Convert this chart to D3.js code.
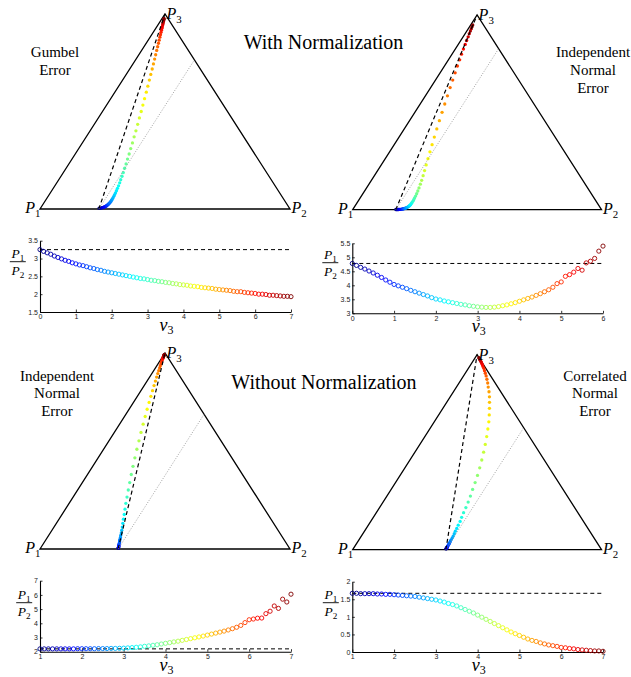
<!DOCTYPE html>
<html>
<head>
<title>simplex_ratio_panels</title>
<script src="https://cdn.jsdelivr.net/npm/d3@7"></script>
<style>
  body { margin: 0; background: #fff; }
</style>
</head>
<body>
<svg id="container" width="631" height="677"></svg>
<script>
// v3 grid used by all panels (step 0.1)
const v3From0 = [0,0.1,0.2,0.3,0.4,0.5,0.6,0.7,0.8,0.9,1,1.1,1.2,1.3,1.4,1.5,1.6,1.7,1.8,1.9,
  2,2.1,2.2,2.3,2.4,2.5,2.6,2.7,2.8,2.9,3,3.1,3.2,3.3,3.4,3.5,3.6,3.7,3.8,3.9,
  4,4.1,4.2,4.3,4.4,4.5,4.6,4.7,4.8,4.9,5,5.1,5.2,5.3,5.4,5.5,5.6,5.7,5.8,5.9,
  6,6.1,6.2,6.3,6.4,6.5,6.6,6.7,6.8,6.9,7]
const v3To6 = v3From0.slice(0, 61)
const v3From1 = v3From0.slice(10)

// Gumbel error, with normalization (v3 = 0..7)
const gumbelRatio = [3.25,3.20,3.16,3.12,3.07,3.03,2.99,2.95,2.92,2.88,
  2.85,2.82,2.80,2.77,2.74,2.72,2.69,2.67,2.64,2.62,
  2.60,2.58,2.56,2.54,2.52,2.50,2.48,2.46,2.44,2.43,
  2.41,2.39,2.38,2.36,2.35,2.33,2.32,2.30,2.29,2.27,
  2.26,2.25,2.23,2.22,2.21,2.19,2.18,2.17,2.16,2.14,
  2.13,2.12,2.11,2.10,2.08,2.07,2.07,2.05,2.04,2.03,
  2.02,2.00,2.00,1.99,1.97,1.97,1.96,1.95,1.94,1.94,1.93]
const gumbelP3 = [0.004,0.004,0.005,0.006,0.006,0.007,0.008,0.009,0.011,0.012,
  0.014,0.016,0.018,0.021,0.023,0.027,0.030,0.035,0.039,0.045,
  0.051,0.057,0.065,0.074,0.083,0.094,0.106,0.119,0.134,0.150,
  0.168,0.187,0.209,0.231,0.256,0.282,0.310,0.339,0.370,0.401,
  0.434,0.467,0.500,0.533,0.566,0.599,0.630,0.661,0.690,0.718,
  0.744,0.769,0.791,0.813,0.832,0.850,0.866,0.881,0.894,0.906,
  0.917,0.927,0.935,0.943,0.949,0.955,0.961,0.966,0.970,0.973,0.977]

// Independent normal error, with normalization (v3 = 0..6)
const indepNormRatio = [4.78,4.71,4.64,4.58,4.51,4.44,4.36,4.28,4.19,4.11,
  4.03,3.98,3.93,3.88,3.82,3.77,3.72,3.67,3.62,3.56,
  3.51,3.48,3.44,3.41,3.38,3.35,3.32,3.30,3.27,3.25,
  3.23,3.22,3.21,3.21,3.22,3.24,3.27,3.30,3.34,3.38,
  3.43,3.48,3.53,3.58,3.64,3.70,3.77,3.84,3.93,4.06,
  4.12,4.32,4.38,4.47,4.60,4.54,4.80,4.86,4.96,5.22,5.40]
const indepNormP3 = [0.001,0.001,0.001,0.001,0.001,0.001,0.002,0.002,0.002,0.003,
  0.003,0.004,0.005,0.006,0.007,0.008,0.009,0.011,0.013,0.016,
  0.019,0.022,0.026,0.031,0.036,0.043,0.051,0.060,0.070,0.082,
  0.096,0.112,0.131,0.151,0.175,0.201,0.230,0.262,0.297,0.334,
  0.373,0.415,0.457,0.500,0.543,0.585,0.627,0.666,0.703,0.738,
  0.770,0.799,0.825,0.849,0.869,0.888,0.904,0.918,0.930,0.940,0.949]

// Independent normal error, without normalization (v3 = 1..7)
const indepRawRatio = [2.20,2.20,2.20,2.20,2.20,2.20,2.20,2.20,2.20,2.21,
  2.21,2.21,2.21,2.21,2.22,2.22,2.22,2.23,2.23,2.24,
  2.25,2.27,2.29,2.31,2.34,2.38,2.41,2.45,2.49,2.54,
  2.59,2.64,2.69,2.74,2.80,2.86,2.92,2.98,3.04,3.10,
  3.17,3.24,3.31,3.38,3.45,3.53,3.62,3.72,3.85,4.05,
  4.25,4.30,4.36,4.37,4.68,4.85,5.22,5.05,5.70,5.50,6.05]
const indepRawP3 = [0.004,0.005,0.005,0.006,0.008,0.009,0.011,0.013,0.015,0.018,
  0.021,0.025,0.030,0.036,0.042,0.050,0.059,0.069,0.082,0.096,
  0.112,0.131,0.152,0.176,0.203,0.233,0.265,0.301,0.339,0.380,
  0.422,0.465,0.509,0.552,0.595,0.637,0.676,0.713,0.748,0.779,
  0.808,0.834,0.857,0.877,0.895,0.910,0.924,0.935,0.945,0.953,
  0.961,0.967,0.972,0.976,0.980,0.983,0.986,0.988,0.990,0.992,0.993]

// Correlated normal error, without normalization (v3 = 1..7)
const corrRawRatio = [1.67,1.67,1.66,1.66,1.66,1.66,1.65,1.65,1.64,1.64,
  1.63,1.62,1.61,1.60,1.59,1.58,1.56,1.54,1.52,1.50,
  1.48,1.45,1.42,1.38,1.35,1.31,1.26,1.21,1.16,1.11,
  1.05,0.99,0.93,0.87,0.81,0.75,0.69,0.63,0.57,0.52,
  0.47,0.42,0.37,0.33,0.30,0.26,0.23,0.20,0.18,0.16,
  0.13,0.12,0.10,0.09,0.07,0.06,0.05,0.04,0.03,0.03,0.02]
const corrRawP3 = [0.004,0.005,0.006,0.007,0.008,0.009,0.011,0.013,0.015,0.017,
  0.020,0.024,0.028,0.033,0.038,0.045,0.052,0.061,0.070,0.082,
  0.095,0.109,0.126,0.145,0.166,0.190,0.216,0.244,0.275,0.309,
  0.344,0.381,0.420,0.460,0.500,0.540,0.580,0.619,0.656,0.691,
  0.725,0.756,0.784,0.810,0.834,0.855,0.874,0.891,0.905,0.918,
  0.930,0.940,0.948,0.955,0.962,0.967,0.972,0.976,0.979,0.982,0.985]

// ratio at the first v3 value (dashed reference)
const refRatios = [3.25, 4.78, 2.20, 1.67]

const xTickSets = [[0,1,2,3,4,5,6,7], [0,1,2,3,4,5,6], [1,2,3,4,5,6,7], [1,2,3,4,5,6,7]]
const yTickSets = [[1.5,2,2.5,3,3.5], [3,3.5,4,4.5,5,5.5], [2,3,4,5,6,7], [0,0.5,1,1.5,2]]
const xDomains = [[0,7], [0,6], [1,7], [1,7]]
const yDomains = [[1.5,3.5], [3,5.5], [2,7], [0,2]]

const sectionTitles = ["With Normalization", "Without Normalization"]
const errorLabels = [["Gumbel","Error"], ["Independent","Normal","Error"],
                     ["Independent","Normal","Error"], ["Correlated","Normal","Error"]]

const series = [
  {v3: v3From0, ratio: gumbelRatio, p3: gumbelP3},
  {v3: v3To6, ratio: indepNormRatio, p3: indepNormP3},
  {v3: v3From1, ratio: indepRawRatio, p3: indepRawP3},
  {v3: v3From1, ratio: corrRawRatio, p3: corrRawP3}
]

// ---- layout ----
const triBox = [
  {x0: 40, x1: 290, yb: 209, yt: 14},
  {x0: 352.7, x1: 601.5, yb: 209.7, yt: 15},
  {x0: 40, x1: 290, yb: 549, yt: 353},
  {x0: 352.7, x1: 601.5, yb: 549.7, yt: 354.7}
]
const ratioBox = [
  {x0: 40, x1: 291, yt: 240.7, yb: 312, fx: 17.8, fy: 261.7},
  {x0: 352.3, x1: 603, yt: 243.3, yb: 313.3, fx: 330.3, fy: 262.7},
  {x0: 40, x1: 291, yt: 580.7, yb: 651.7, fx: 24.2, fy: 602.7},
  {x0: 352.3, x1: 603, yt: 581.7, yb: 652, fx: 330.8, fy: 602.7}
]
const labelPos = [
  {x: 55, y: 57.3}, {x: 593, y: 57.3}, {x: 57, y: 380.5}, {x: 595, y: 380.5}
]
const titlePos = [{x: 323.5, y: 48.5}, {x: 324, y: 389.3}]

const serif = "'Liberation Serif','Times New Roman',serif"
const sans = "'Liberation Sans',Arial,sans-serif"

let svg = d3.select('#container')
svg.append("rect").attr("width", 631).attr("height", 677).attr("fill", "white")

// MATLAB jet colormap
let jet = d3.scaleLinear()
  .domain([0, 0.125, 0.375, 0.625, 0.875, 1])
  .range(["#000080", "#0000ff", "#00ffff", "#ffff00", "#ff0000", "#800000"])
  .interpolate(d3.interpolateRgb)

function pText(g, x, y, idx, size, anchor) {
  let t = g.append("text").attr("x", x).attr("y", y)
    .attr("text-anchor", anchor)
    .style("font-family", serif).style("font-size", size + "px")
  t.append("tspan").style("font-style", "italic").text("P")
  t.append("tspan").attr("dy", size * 0.25).style("font-size", (size * 0.68) + "px").text(idx)
  return t
}

function drawTriangle(i) {
  let b = triBox[i], s = series[i], r0 = refRatios[i]
  let g = svg.append("g")
  let x = d3.scaleLinear().domain([0, 1]).range([b.x0, b.x1])
  let y = d3.scaleLinear().domain([0, 1]).range([b.yb, b.yt])
  let pos = (p1, p2, p3) => [x(p2 + p3 / 2), y(p3)]
  let color = d3.scaleLinear().domain(d3.extent(s.v3)).range([0, 1])

  let corners = [pos(1, 0, 0), pos(0, 1, 0), pos(0, 0, 1)]
  g.append("path").attr("d", d3.line()(corners) + "Z")
    .attr("fill", "none").attr("stroke", "black").attr("stroke-width", 1.3)

  let pts = s.v3.map((v, k) => {
    let p3 = s.p3[k], r = s.ratio[k]
    let p2 = (1 - p3) / (1 + r), p1 = (1 - p3) * r / (1 + r)
    let xy = pos(p1, p2, p3)
    return {x: xy[0], y: xy[1], c: jet(color(v))}
  })
  g.selectAll("circle").data(pts).enter().append("circle")
    .attr("cx", d => d.x).attr("cy", d => d.y).attr("r", 1.65)
    .attr("fill", d => d.c)

  let q = 1 / (1 + r0)
  let start = pos(1 - q, q, 0)
  g.append("path").attr("d", d3.line()([start, pos(0, 0, 1)]))
    .attr("stroke", "black").attr("stroke-width", 1.2).attr("stroke-dasharray", "4,3")
  g.append("path").attr("d", d3.line()([start, pos(0, q, 1 - q)]))
    .attr("stroke", "#8a8a8a").attr("stroke-width", 0.8).attr("stroke-dasharray", "1,1.6")

  pText(g, corners[0][0] + 0.5, corners[0][1] + 4.3, "1", 16, "end")
  pText(g, corners[1][0] + 1.5, corners[1][1] + 4.3, "2", 16, "start")
  pText(g, corners[2][0] + 1.5, corners[2][1] + 5, "3", 16, "start")

  errorLabels[i].forEach((line, k) => {
    g.append("text").attr("x", labelPos[i].x).attr("y", labelPos[i].y + k * 17.6)
      .attr("text-anchor", "middle")
      .style("font-family", serif).style("font-size", "15px").text(line)
  })
}

function drawRatio(i) {
  let b = ratioBox[i], s = series[i], r0 = refRatios[i]
  let g = svg.append("g")
  let x = d3.scaleLinear().domain(xDomains[i]).range([b.x0, b.x1])
  let y = d3.scaleLinear().domain(yDomains[i]).range([b.yb, b.yt])
  let color = d3.scaleLinear().domain(d3.extent(s.v3)).range([0, 1])

  let xAxis = d3.axisBottom(x).tickValues(xTickSets[i]).tickSizeInner(-2.5).tickSizeOuter(0)
    .tickPadding(2.5).tickFormat(d3.format("~g"))
  let yAxis = d3.axisLeft(y).tickValues(yTickSets[i]).tickSizeInner(-2.5).tickSizeOuter(0)
    .tickPadding(2).tickFormat(d3.format("~g"))

  let gx = g.append("g").attr("transform", `translate(0,${b.yb})`).call(xAxis)
  let gy = g.append("g").attr("transform", `translate(${b.x0},0)`).call(yAxis)
  for (let a of [gx, gy]) {
    a.select(".domain").attr("stroke", "black").attr("stroke-width", 1.1)
    a.selectAll(".tick line").attr("stroke", "black").attr("stroke-width", 0.8)
    a.selectAll(".tick text").style("font-family", sans).style("font-size", "7px")
      .attr("fill", "#222")
  }

  g.append("line").attr("x1", x(xDomains[i][0])).attr("x2", x(xDomains[i][1]))
    .attr("y1", y(r0)).attr("y2", y(r0))
    .attr("stroke", "black").attr("stroke-width", 1).attr("stroke-dasharray", "4,3")

  g.selectAll("circle.pt").data(s.v3).enter().append("circle")
    .attr("class", "pt")
    .attr("cx", v => x(v)).attr("cy", (v, k) => y(s.ratio[k])).attr("r", 2.1)
    .attr("fill", "none").attr("stroke", v => jet(color(v))).attr("stroke-width", 0.9)

  // P1 / P2 fraction label
  pText(g, b.fx, b.fy - 3.8, "1", 13.5, "middle")
  g.append("line").attr("x1", b.fx - 8).attr("x2", b.fx + 8)
    .attr("y1", b.fy).attr("y2", b.fy).attr("stroke", "black").attr("stroke-width", 0.9)
  pText(g, b.fx, b.fy + 12.8, "2", 13.5, "middle")

  // v3 label
  let t = g.append("text").attr("x", (b.x0 + b.x1) / 2 + 1).attr("y", b.yb + 19)
    .attr("text-anchor", "middle")
    .style("font-family", serif).style("font-size", "18px")
  t.append("tspan").style("font-style", "italic").text("v")
  t.append("tspan").attr("dy", 3).style("font-size", "12px").text("3")
}

for (let i = 0; i < 4; i++) {
  drawTriangle(i)
  drawRatio(i)
}

sectionTitles.forEach((title, k) => {
  svg.append("text").attr("x", titlePos[k].x).attr("y", titlePos[k].y)
    .attr("text-anchor", "middle")
    .style("font-family", serif).style("font-size", "20px").text(title)
})
</script>
</body>
</html>
